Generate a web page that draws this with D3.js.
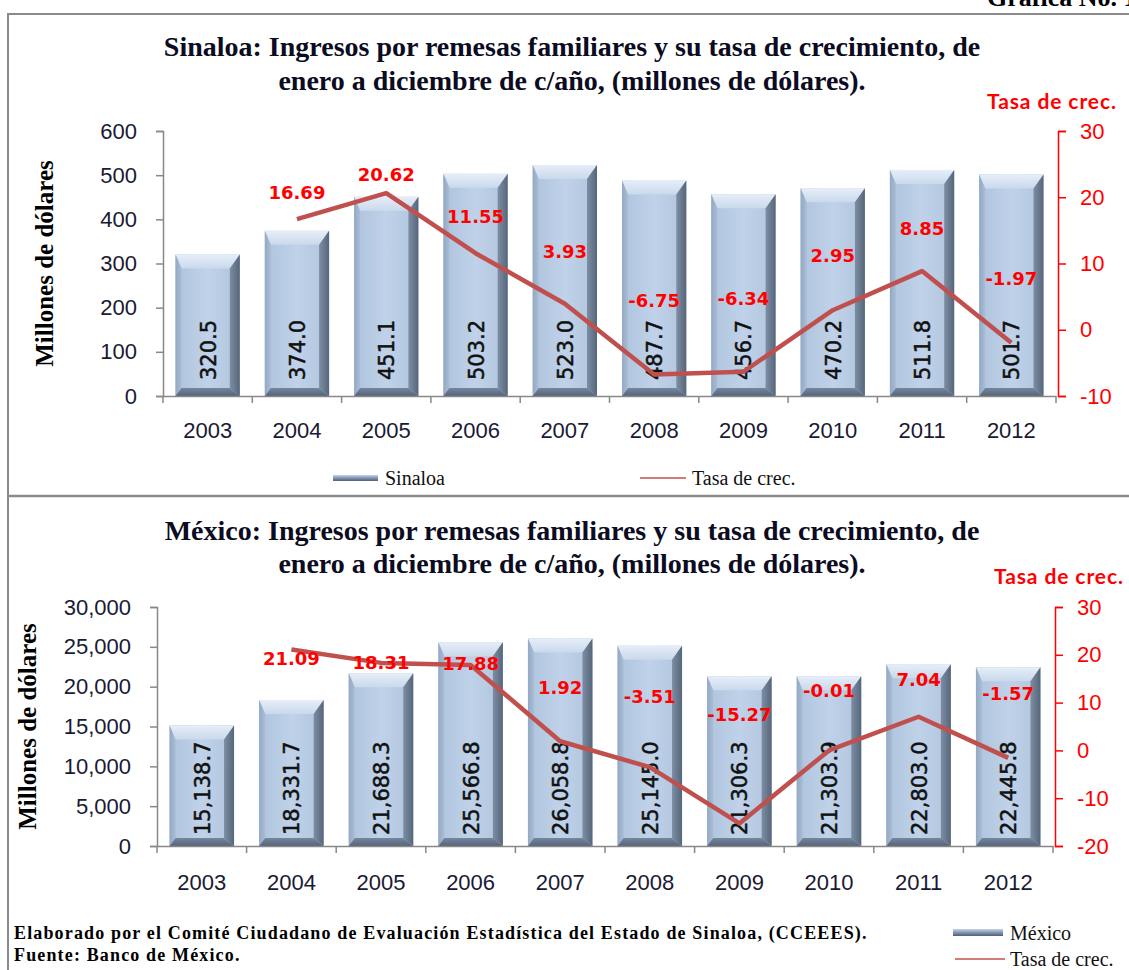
<!DOCTYPE html>
<html><head><meta charset="utf-8">
<script src="https://cdn.jsdelivr.net/npm/d3@7"></script>
<style>body{margin:0;background:#fff}</style>
</head><body>
<svg id="c" width="1129" height="970"></svg>
<script>
const years = ["2003","2004","2005","2006","2007","2008","2009","2010","2011","2012"];
const sinaloaValues = [320.5, 374.0, 451.1, 503.2, 523.0, 487.7, 456.7, 470.2, 511.8, 501.7];
const sinaloaRates = [null, 16.69, 20.62, 11.55, 3.93, -6.75, -6.34, 2.95, 8.85, -1.97];
const mexicoValues = [15138.7, 18331.7, 21688.3, 25566.8, 26058.8, 25145.0, 21306.3, 21303.9, 22803.0, 22445.8];
const mexicoRates = [null, 21.09, 18.31, 17.88, 1.92, -3.51, -15.27, -0.01, 7.04, -1.57];
const sinaloaLeftTicks = [0, 100, 200, 300, 400, 500, 600];
const sinaloaRightTicks = [-10, 0, 10, 20, 30];
const mexicoLeftTicks = [0, 5000, 10000, 15000, 20000, 25000, 30000];
const mexicoRightTicks = [-20, -10, 0, 10, 20, 30];
const titleSinaloa = ["Sinaloa: Ingresos por remesas familiares y su tasa de crecimiento, de", "enero a diciembre de c/año, (millones de dólares)."];
const titleMexico = ["México: Ingresos por remesas familiares y su tasa de crecimiento, de", "enero a diciembre de c/año, (millones de dólares)."];
const yTitle = "Millones de dólares";
const rateTitle = "Tasa de crec.";
const footnotes = ["Elaborado por el Comité Ciudadano de Evaluación Estadística del Estado de Sinaloa, (CCEEES).", "Fuente: Banco de México."];

const svg = d3.select("#c");
const defs = svg.append("defs");
function grad(id, x2, y2, stops){
  const g = defs.append("linearGradient").attr("id", id).attr("x1",0).attr("y1",0).attr("x2",x2).attr("y2",y2);
  stops.forEach(s => g.append("stop").attr("offset", s[0]).attr("stop-color", s[1]));
}
grad("face", 1, 0, [[0,"#aec3dd"],[0.5,"#bfd2e9"],[1,"#b0c4dc"]]);
grad("topB", 0, 1, [[0,"#e6eef8"],[1,"#c9d9ec"]]);
grad("rightB", 1, 0, [[0,"#7d8ea4"],[1,"#56667a"]]);
grad("leftB", 1, 0, [[0,"#93a8c2"],[1,"#a9bdd6"]]);
grad("botB", 0, 1, [[0,"#75879e"],[1,"#55647a"]]);
grad("legSw", 0, 1, [[0,"#c3d4ea"],[0.5,"#8297b2"],[1,"#4f5e72"]]);

// frame
svg.append("rect").attr("x", 8).attr("y", 14).attr("width", 1140).attr("height", 1000)
  .attr("fill", "none").attr("stroke", "#8a8a8a").attr("stroke-width", 2);
svg.append("line").attr("x1", 8).attr("x2", 1129).attr("y1", 496).attr("y2", 496)
  .attr("stroke", "#8a8a8a").attr("stroke-width", 2.5);
svg.append("text").attr("x", 987).attr("y", 6).text("Gráfica No. 1")
  .attr("font-family", "Liberation Serif").attr("font-weight", "bold").attr("font-size", 26).attr("fill", "#000");

function bar(g, x, y, w, h){
  const bT = Math.min(14, h/2), bB = 8, bL = 6, bR = 10;
  g.append("rect").attr("x", x).attr("y", y).attr("width", w).attr("height", h).attr("fill", "url(#face)");
  const poly = (pts, fill) => g.append("polygon").attr("points", pts.map(p => p.join(",")).join(" ")).attr("fill", fill);
  poly([[x,y],[x+w,y],[x+w-bR,y+bT],[x+bL,y+bT]], "url(#topB)");
  poly([[x,y],[x+bL,y+bT],[x+bL,y+h-bB],[x,y+h]], "url(#leftB)");
  poly([[x+w,y],[x+w,y+h],[x+w-bR,y+h-bB],[x+w-bR,y+bT]], "url(#rightB)");
  poly([[x,y+h],[x+bL,y+h-bB],[x+w-bR,y+h-bB],[x+w,y+h]], "url(#botB)");
}

function panel(c){
  const g = svg.append("g");
  // titles
  c.title.forEach((t, i) => g.append("text").attr("x", 572).attr("y", c.titleY + i*c.titleGap).attr("text-anchor", "middle")
    .attr("font-family", "Liberation Serif").attr("font-weight", "bold").attr("font-size", 28).attr("fill", "#0b0b22").text(t));
  const x = d3.scaleBand().domain(years).range([c.x0, c.x1]).paddingInner(0.28).paddingOuter(0.14);
  const xb = d3.scaleBand().domain(years).range([c.x0, c.x1]);
  const yL = d3.scaleLinear().domain([0, d3.max(c.leftTicks)]).range([c.yB, c.yT]);
  const yR = d3.scaleLinear().domain(d3.extent(c.rightTicks)).range([c.yB, c.yT]);

  // bars
  const bg = g.append("g");
  c.values.forEach((v, i) => bar(bg, x(years[i]), yL(v), x.bandwidth(), c.yB - yL(v)));
  // bar labels
  g.selectAll(".bl").data(c.values).join("text")
    .attr("transform", (v, i) => `translate(${xb(years[i]) + xb.bandwidth()/2 + 8},${c.yB - c.labelInset}) rotate(-90)`)
    .attr("font-family", "DejaVu Sans").attr("font-size", 21).attr("fill", "#111")
    .attr("stroke", "#111").attr("stroke-width", 0.5)
    .text(v => c.barFmt(v));

  // left axis
  const axL = g.append("g").attr("transform", `translate(${c.x0},0)`)
    .call(d3.axisLeft(yL).tickValues(c.leftTicks).tickFormat(c.leftFmt).tickSize(7).tickPadding(19));
  axL.select(".domain").attr("stroke", "#888").attr("stroke-width", 1.5);
  axL.selectAll(".tick line").attr("stroke", "#888").attr("stroke-width", 1.5);
  axL.selectAll("text").attr("font-family", "Liberation Sans").attr("font-size", 22).attr("fill", "#1a1a33");
  // bottom axis
  const axB = g.append("g").attr("transform", `translate(0,${c.yB})`)
    .call(d3.axisBottom(xb).tickSize(0).tickPadding(c.yearPad));
  axB.select(".domain").attr("stroke", "#888").attr("stroke-width", 1.5);
  axB.selectAll("text").attr("font-family", "Liberation Sans").attr("font-size", 22).attr("fill", "#1a1a33");
  axB.selectAll(".sep").data(years.concat(["end"])).join("line")
    .attr("x1", (d, i) => c.x0 + i*xb.step()).attr("x2", (d, i) => c.x0 + i*xb.step())
    .attr("y1", 0).attr("y2", 7).attr("stroke", "#888").attr("stroke-width", 1.5);
  // right axis
  const axR = g.append("g").attr("transform", `translate(${c.x1 + 2},0)`)
    .call(d3.axisRight(yR).tickValues(c.rightTicks).tickFormat(d => String(d)).tickSize(8).tickPadding(14));
  axR.select(".domain").attr("stroke", "#ff0000").attr("stroke-width", 1.5);
  axR.selectAll(".tick line").attr("stroke", "#ff0000").attr("stroke-width", 1.5);
  axR.selectAll("text").attr("font-family", "Liberation Sans").attr("font-size", 22).attr("fill", "#ff0000");
  g.append("text").attr("x", c.rateTitleX).attr("y", c.rateTitleY).text(rateTitle)
    .attr("font-family", "Lato").attr("font-weight", "bold").attr("font-size", 21).attr("letter-spacing", 0.9).attr("fill", "#ff0000");

  // line
  const line = d3.line().defined(d => d != null)
    .x((d, i) => xb(years[i]) + xb.bandwidth()/2).y(d => yR(d));
  g.append("path").attr("d", line(c.rates)).attr("fill", "none")
    .attr("stroke", "#c0504d").attr("stroke-width", 4.5).attr("stroke-linejoin", "round");
  const ls = d3.scaleLinear().domain(d3.extent(c.rightTicks)).range(c.labelRange);
  g.selectAll(".rl").data(c.rates.map((r, i) => ({r, i})).filter(d => d.r != null)).join("text")
    .attr("x", d => xb(years[d.i]) + xb.bandwidth()/2)
    .attr("y", d => ls(d.r)).attr("text-anchor", "middle")
    .attr("font-family", "DejaVu Sans").attr("font-weight", "bold").attr("font-size", 18).attr("fill", "#ff0000")
    .text(d => d.r.toFixed(2));

  // y title
  g.append("text").attr("transform", `translate(${c.yTitleX},${(c.yT + c.yB)/2}) rotate(-90)`)
    .attr("text-anchor", "middle").attr("font-family", "Liberation Serif").attr("font-weight", "bold")
    .attr("font-size", 25).attr("fill", "#000").text(yTitle);
}

panel({
  title: titleSinaloa, titleY: 56, titleGap: 34, x0: 163, x1: 1056, yT: 131, yB: 396,
  values: sinaloaValues, rates: sinaloaRates, leftTicks: sinaloaLeftTicks, rightTicks: sinaloaRightTicks,
  leftFmt: d3.format("d"), barFmt: d3.format(".1f"), labelInset: 16, yearPad: 26,
  labelRange: [322, 138], rateTitleX: 987, rateTitleY: 109, yTitleX: 53
});
panel({
  title: titleMexico, titleY: 540, titleGap: 33, x0: 157, x1: 1053, yT: 607, yB: 846,
  values: mexicoValues, rates: mexicoRates, leftTicks: mexicoLeftTicks, rightTicks: mexicoRightTicks,
  leftFmt: d3.format(",d"), barFmt: d3.format(",.1f"), labelInset: 11, yearPad: 28,
  labelRange: [728, 651], rateTitleX: 994, rateTitleY: 584, yTitleX: 36
});

// legends
const legFont = 20;
const legTop = svg.append("g");
legTop.append("rect").attr("x", 333).attr("y", 475).attr("width", 45).attr("height", 6).attr("fill", "url(#legSw)");
legTop.append("text").attr("x", 385).attr("y", 485).text("Sinaloa")
  .attr("font-family", "Liberation Serif").attr("font-size", legFont).attr("fill", "#111");
legTop.append("line").attr("x1", 640).attr("x2", 686).attr("y1", 478).attr("y2", 478).attr("stroke", "#c0504d").attr("stroke-width", 1.5);
legTop.append("text").attr("x", 692).attr("y", 485).text(rateTitle)
  .attr("font-family", "Liberation Serif").attr("font-size", legFont).attr("fill", "#111");
const legBot = svg.append("g");
legBot.append("rect").attr("x", 953).attr("y", 929).attr("width", 50).attr("height", 7).attr("fill", "url(#legSw)");
legBot.append("text").attr("x", 1010).attr("y", 940).text("México")
  .attr("font-family", "Liberation Serif").attr("font-size", legFont).attr("fill", "#111");
legBot.append("line").attr("x1", 955).attr("x2", 1005).attr("y1", 959).attr("y2", 959).attr("stroke", "#c0504d").attr("stroke-width", 1.5);
legBot.append("text").attr("x", 1010).attr("y", 966).text(rateTitle)
  .attr("font-family", "Liberation Serif").attr("font-size", legFont).attr("fill", "#111");

// footnotes
footnotes.forEach((t, i) => svg.append("text").attr("x", 14).attr("y", 939 + i*22).text(t)
  .attr("font-family", "Liberation Serif").attr("font-weight", "bold").attr("font-size", 18)
  .attr("letter-spacing", 1.15).attr("fill", "#000"));
</script>
</body></html>
